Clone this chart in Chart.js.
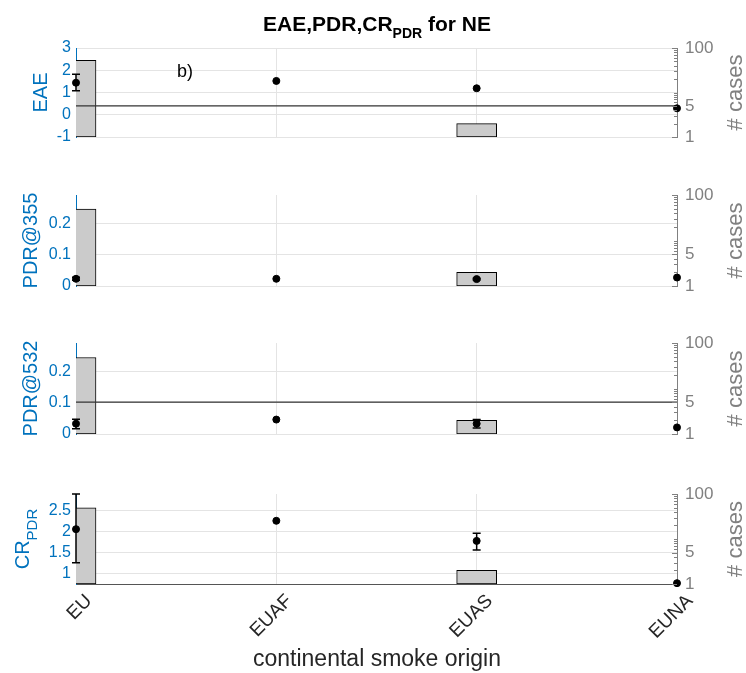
<!DOCTYPE html>
<html>
<head>
<meta charset="utf-8">
<script src="https://cdn.jsdelivr.net/npm/chart.js@4"></script>
<style>
  html, body { margin: 0; padding: 0; background: #fff; }
  #wrap { position: relative; width: 746px; height: 673px; }
  #wrap canvas { position: absolute; left: 0; }
</style>
</head>
<body>
<div id="wrap">
  <canvas id="p1"></canvas>
  <canvas id="p2"></canvas>
  <canvas id="p3"></canvas>
  <canvas id="p4"></canvas>
</div>
<script>
// categories
const origins = ['EU', 'EUAF', 'EUAS', 'EUNA'];

// EAE panel
const eae = [1.44, 1.52, 1.19, 0.29];
const eaeLow = [1.08, null, null, null];
const eaeHigh = [1.82, null, null, null];
const eaeCases = [53, 1, 2, 1];
const eaeTicks = [-1, 0, 1, 2, 3];

// PDR@355 panel
const pdr355 = [0.023, 0.023, 0.022, 0.027];
const pdr355Low = [0.018, null, 0.019, null];
const pdr355High = [0.028, null, 0.025, null];
const pdr355Cases = [49, 1, 2, 1];
const pdr355Ticks = [0, 0.1, 0.2];

// PDR@532 panel
const pdr532 = [0.033, 0.046, 0.033, 0.021];
const pdr532Low = [0.017, null, 0.019, null];
const pdr532High = [0.047, null, 0.046, null];
const pdr532Cases = [48, 1, 2, 1];
const pdr532Ticks = [0, 0.1, 0.2];

// CR_PDR panel
const crPdr = [2.06, 2.26, 1.78, 0.77];
const crPdrLow = [1.26, null, 1.56, null];
const crPdrHigh = [2.9, null, 1.96, null];
const crPdrCases = [49, 1, 2, 1];
const crPdrTicks = [1, 1.5, 2, 2.5];

// right axis (# cases, log)
const caseTicks = [1, 2, 3, 4, 5, 6, 7, 8, 9, 10, 20, 30, 40, 50, 60, 70, 80, 90, 100];
const caseLabels = [1, 5, 100];
const caseThreshold = 5;

const FONT = "'Liberation Sans', Arial, sans-serif";
const BLUE = '#0072BD';
const GRAY = '#808080';
const GRID = '#e4e4e4';
const TXT = '#262626';

function drawParts(ctx, parts, x, y, color) {
  let total = 0;
  parts.forEach(p => {
    ctx.font = (p.bold ? 'bold ' : '') + p.size + 'px ' + FONT;
    p.w = ctx.measureText(p.text).width;
    total += p.w;
  });
  let cx = x - total / 2;
  ctx.fillStyle = color;
  ctx.textAlign = 'left';
  ctx.textBaseline = 'alphabetic';
  parts.forEach(p => {
    ctx.font = (p.bold ? 'bold ' : '') + p.size + 'px ' + FONT;
    ctx.fillText(p.text, cx, y + (p.dy || 0));
    cx += p.w;
  });
}

function drawRotated(ctx, parts, x, y, color) {
  ctx.save();
  ctx.translate(x, y);
  ctx.rotate(-Math.PI / 2);
  drawParts(ctx, parts, 0, 0, color);
  ctx.restore();
}

function makePanel(id, top, height, padTop, padBottom, p) {
  const canvas = document.getElementById(id);
  canvas.width = 746;
  canvas.height = height;
  canvas.style.top = top + 'px';
  const last = !!p.last;

  const decor = {
    id: 'decor' + id,
    afterDatasetsDraw(chart) {
      const ctx = chart.ctx;
      const xs = chart.scales.x, ys = chart.scales.y, yr = chart.scales.y2;
      const area = chart.chartArea;
      // error bars
      ctx.save();
      ctx.strokeStyle = '#000';
      ctx.lineWidth = 1.5;
      p.low.forEach((lo, i) => {
        const hi = p.high[i];
        if (lo == null || hi == null) return;
        const x = xs.getPixelForValue(i);
        const y1 = ys.getPixelForValue(lo), y2 = ys.getPixelForValue(hi);
        ctx.beginPath();
        ctx.moveTo(x, y1); ctx.lineTo(x, y2);
        ctx.moveTo(x - 4, y1); ctx.lineTo(x + 4, y1);
        ctx.moveTo(x - 4, y2); ctx.lineTo(x + 4, y2);
        ctx.stroke();
      });
      // inward ticks on right axis
      ctx.strokeStyle = GRAY;
      ctx.lineWidth = 1;
      caseTicks.forEach(v => {
        const y = Math.round(yr.getPixelForValue(v)) + 0.5;
        const len = caseLabels.includes(v) ? 5 : 3;
        ctx.beginPath();
        ctx.moveTo(area.right - len, y); ctx.lineTo(area.right, y);
        ctx.stroke();
      });
      ctx.restore();
    },
    afterDraw(chart) {
      const ctx = chart.ctx;
      const area = chart.chartArea;
      const midY = (area.top + area.bottom) / 2;
      drawRotated(ctx, p.leftTitle, p.leftX, midY, BLUE);
      drawRotated(ctx, [{ text: '# cases', size: 22 }], 742, midY, GRAY);
      if (p.extra) p.extra(ctx, chart);
    }
  };

  const datasets = [{
    type: 'line',
    data: p.values,
    yAxisID: 'y',
    showLine: false,
    pointRadius: 3.5,
    pointBackgroundColor: '#000',
    pointBorderColor: '#000',
    order: 0,
    clip: false
  }];
  if (p.threshold) {
    datasets.push({
      type: 'line',
      data: origins.map(() => caseThreshold),
      yAxisID: 'y2',
      pointRadius: 0,
      borderColor: '#333',
      borderWidth: 1.3,
      order: 1,
      clip: 0
    });
  }
  datasets.push({
    type: 'bar',
    data: p.cases,
    yAxisID: 'y2',
    backgroundColor: '#cbcbcb',
    borderColor: '#000',
    borderWidth: 1,
    borderSkipped: false,
    barThickness: 40,
    order: 2,
    clip: 0
  });

  return new Chart(canvas, {
    type: 'bar',
    data: { labels: origins, datasets },
    options: {
      responsive: false,
      animation: false,
      layout: { padding: { top: padTop, bottom: padBottom, left: 0, right: 0 } },
      plugins: { legend: { display: false }, tooltip: { enabled: false } },
      scales: {
        x: {
          type: 'category',
          offset: false,
          grid: { color: GRID, offset: false, drawTicks: false },
          border: { display: last, color: '#555' },
          ticks: {
            display: last,
            color: TXT,
            font: { family: FONT, size: 19 },
            maxRotation: 45,
            minRotation: 45,
            labelOffset: 13,
            padding: 6
          },
          afterFit: s => { s.height = last ? 89 : 0; }
        },
        y: {
          position: 'left',
          min: p.min,
          max: p.max,
          afterBuildTicks: s => { s.ticks = p.ticks.map(v => ({ value: v })); },
          grid: { color: GRID, drawTicks: false },
          border: { color: BLUE },
          ticks: {
            color: BLUE,
            font: { family: FONT, size: 16 },
            padding: 5,
            callback: v => String(v)
          },
          afterFit: s => { s.width = 76; }
        },
        y2: {
          type: 'logarithmic',
          position: 'right',
          min: 1,
          max: 100,
          afterBuildTicks: s => { s.ticks = caseTicks.map(v => ({ value: v })); },
          grid: { drawOnChartArea: false, drawTicks: false },
          border: { color: GRAY },
          ticks: {
            color: GRAY,
            font: { family: FONT, size: 17 },
            padding: 8,
            autoSkip: false,
            callback: v => caseLabels.includes(v) ? String(v) : ''
          },
          afterFit: s => { s.width = 69; }
        }
      }
    },
    plugins: [decor]
  });
}

makePanel('p1', 0, 160, 48, 23, {
  values: eae, low: eaeLow, high: eaeHigh, cases: eaeCases,
  ticks: eaeTicks, min: -1, max: 3, threshold: true,
  leftTitle: [{ text: 'EAE', size: 20 }], leftX: 47,
  extra: (ctx, chart) => {
    drawParts(ctx, [
      { text: 'EAE,PDR,CR', size: 21, bold: true },
      { text: 'PDR', size: 14, bold: true, dy: 7 },
      { text: ' for NE', size: 21, bold: true }
    ], 377, 31, '#000');
    ctx.font = '18px ' + FONT;
    ctx.fillStyle = '#000';
    ctx.textAlign = 'left';
    ctx.textBaseline = 'middle';
    ctx.fillText('b)', chart.chartArea.left + 101, chart.chartArea.top + 24);
  }
});

makePanel('p2', 170, 135, 25, 19, {
  values: pdr355, low: pdr355Low, high: pdr355High, cases: pdr355Cases,
  ticks: pdr355Ticks, min: 0, max: 0.29, threshold: false,
  leftTitle: [{ text: 'PDR@355', size: 20 }], leftX: 37
});

makePanel('p3', 318, 137, 25, 21, {
  values: pdr532, low: pdr532Low, high: pdr532High, cases: pdr532Cases,
  ticks: pdr532Ticks, min: 0, max: 0.29, threshold: true,
  leftTitle: [{ text: 'PDR@532', size: 20 }], leftX: 37
});

makePanel('p4', 470, 203, 24, 0, {
  values: crPdr, low: crPdrLow, high: crPdrHigh, cases: crPdrCases,
  ticks: crPdrTicks, min: 0.75, max: 2.9, threshold: false, last: true,
  leftTitle: [{ text: 'CR', size: 20 }, { text: 'PDR', size: 15, dy: 8 }], leftX: 29,
  extra: (ctx) => {
    drawParts(ctx, [{ text: 'continental smoke origin', size: 23 }], 377, 196, TXT);
  }
});
</script>
</body>
</html>
